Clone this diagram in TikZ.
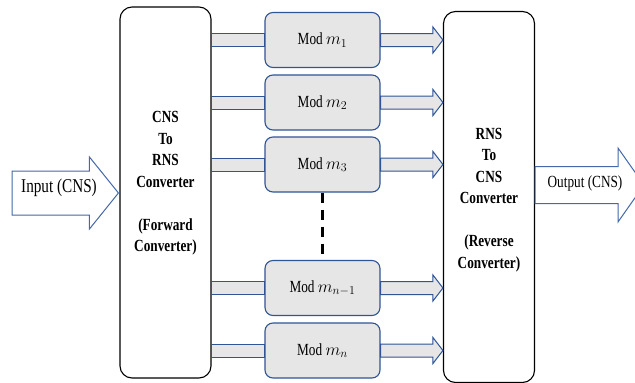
\documentclass[tikz,border=0pt]{standalone}
\usepackage{fontspec}
\setmainfont{Liberation Serif}
\newfontfamily\narrowserif[FakeStretch=0.78]{Liberation Serif}
\usetikzlibrary{calc}
\definecolor{boxblue}{RGB}{47,85,151}
\definecolor{arrblue}{RGB}{68,104,170}
\definecolor{modgray}{RGB}{230,230,230}
\tikzset{
conv/.style={draw=black, line width=1.1pt, rounded corners=12pt, fill=white,
  minimum width=91pt, minimum height=371pt},
convtext/.style={align=center, font=\narrowserif\bfseries\fontsize{17}{21.5}\selectfont},
modbox/.style={draw=boxblue, line width=1.1pt, rounded corners=8pt, fill=modgray,
  minimum width=115pt, minimum height=55pt, font=\narrowserif\fontsize{17}{18}\selectfont},
band/.style={draw=boxblue, line width=1pt, fill=modgray},
bigarrow/.style={draw=arrblue, line width=1pt, fill=white},
plaintext/.style={font=\narrowserif\fontsize{17}{18}\selectfont},
}

\begin{document}
\begin{tikzpicture}[x=1pt,y=-1pt]
\clip (0,0) rectangle (635,383);
% the converters
\node[conv] (fwd) at (165.5,192.5) {};
\node[conv] (rev) at (489,197) {};
\node[convtext] (fwdtxt) at ($(fwd.center)+(0,-9)$)
  {CNS\\To\\RNS\\Converter\\[21.5pt](Forward\\Converter)};
\node[convtext] (revtxt) at ($(rev.center)+(0,3)$)
  {RNS\\To\\CNS\\Converter\\[21.5pt](Reverse\\Converter)};
% the modulo channels
\node[modbox] (mod1)  at (322.5,40)    {Mod $m_1$};
\node[modbox] (mod2)  at (322.5,102.5) {Mod $m_2$};
\node[modbox] (mod3)  at (322.5,164.5) {Mod $m_3$};
\node[modbox] (modn1) at (322.5,288)   {Mod $m_{n-1}$};
\node[modbox] (modn)  at (322.5,350.5) {Mod $m_n$};
\draw[line width=2.5pt, dash pattern=on 10pt off 7pt] (mod3.south) -- (modn1.north);
% the bands and arrows
\foreach \m in {mod1,mod2,mod3,modn1,modn}
{
  \draw[band] let \p1=(fwd.east), \p2=(\m.west) in
    (\x1,\y2+6.5pt) rectangle (\x2,\y2-6.5pt);
  \draw[band] let \p1=(\m.east), \p2=(rev.west) in
    (\x1,\y1+6.5pt) -- (\x2-10pt,\y1+6.5pt) -- (\x2-10pt,\y1+13pt) -- (\x2,\y1)
    -- (\x2-10pt,\y1-13pt) -- (\x2-10pt,\y1-6.5pt) -- (\x1,\y1-6.5pt) -- cycle;
}
% input and output
\coordinate (in) at (12,193);
\coordinate (out) at (644,185);
\draw[bigarrow] let \p1=(in), \p2=(fwd.west) in
  (\x1,\y1+22pt) -- (\x2-30pt,\y1+22pt) -- (\x2-30pt,\y1+36pt) -- (\x2-1pt,\y1)
  -- (\x2-30pt,\y1-36pt) -- (\x2-30pt,\y1-22pt) -- (\x1,\y1-22pt) -- cycle;
\draw[bigarrow] let \p1=(rev.east), \p2=(out) in
  (\x1,\y2+18.5pt) -- (\x2-26pt,\y2+18.5pt) -- (\x2-26pt,\y2+37pt) -- (\x2,\y2)
  -- (\x2-26pt,\y2-37pt) -- (\x2-26pt,\y2-18.5pt) -- (\x1,\y2-18.5pt) -- cycle;
\node[plaintext, font=\narrowserif\fontsize{19.5}{20}\selectfont] (inlabel) at (59,188) {Input (CNS)};
\node[plaintext] (outlabel) at (585,183) {Output (CNS)};
\end{tikzpicture}
\end{document}
